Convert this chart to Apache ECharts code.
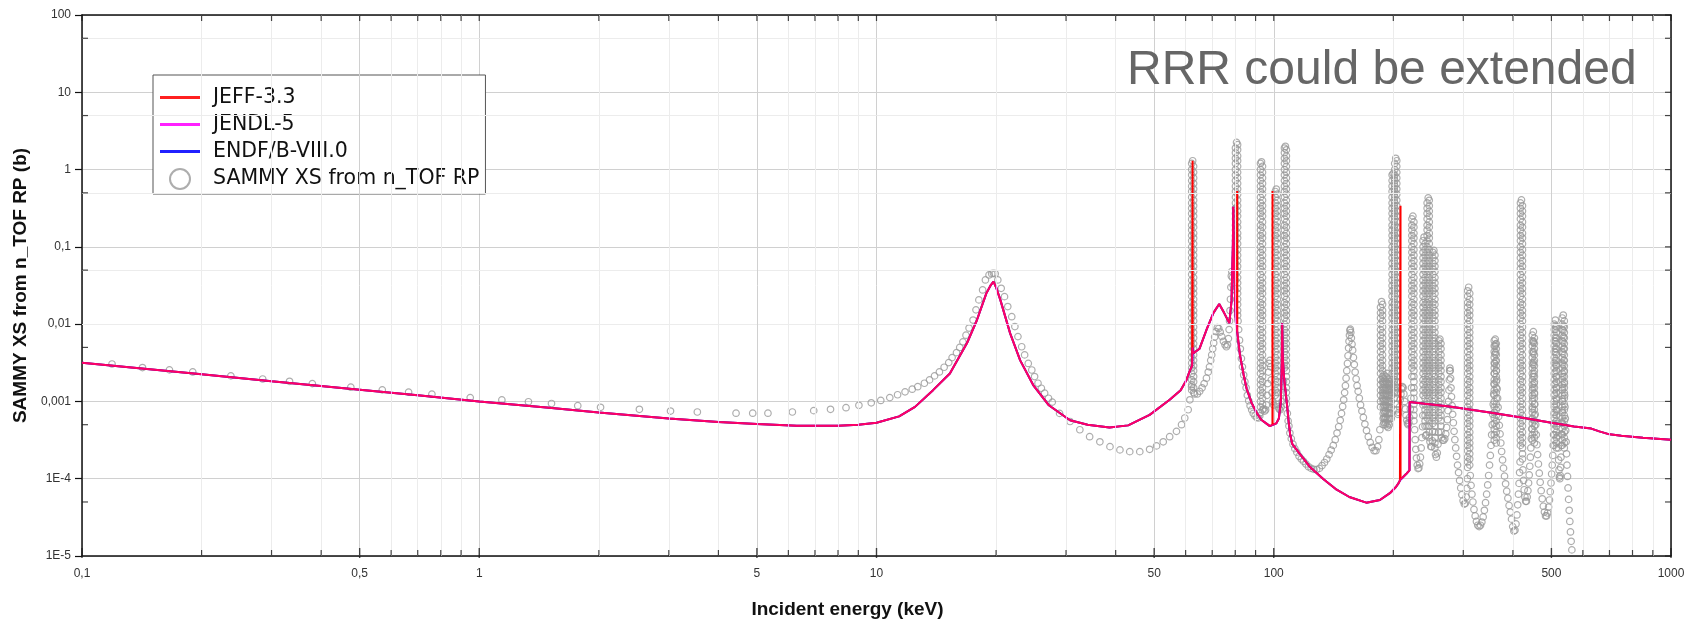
<!DOCTYPE html>
<html><head><meta charset="utf-8">
<script src="https://cdn.jsdelivr.net/npm/echarts@6/dist/echarts.min.js"></script>
<style>html,body{margin:0;padding:0;background:#fff}#chart{width:1692px;height:619px}</style>
</head><body><div id="chart"></div>
<script>
// ---- axis ticks / labels ----
const xTickValues = [0.1, 0.5, 1, 5, 10, 50, 100, 500, 1000];
const xTickLabels = ['0,1', '0,5', '1', '5', '10', '50', '100', '500', '1000'];
const xMinorValues = [0.2,0.3,0.4,0.6,0.7,0.8,0.9, 2,3,4,6,7,8,9, 20,30,40,60,70,80,90, 200,300,400,600,700,800,900];
const yTickValues = [100, 10, 1, 0.1, 0.01, 0.001, 1e-4, 1e-5];
const yTickLabels = ['100', '10', '1', '0,1', '0,01', '0,001', '1E-4', '1E-5'];
const yMinorValues = [50, 5, 0.5, 0.05, 0.005, 5e-4, 5e-5];

// ---- evaluated cross sections (JENDL-5 and ENDF/B-VIII.0 coincide in the picture) ----
const jendlXS = [
[0.1,3.17e-3],[0.2,2.24e-3],[0.3,1.83e-3],[0.5,1.42e-3],[0.7,1.2e-3],[1,1.0e-3],[1.5,8.3e-4],[2,7.2e-4],[3,6.0e-4],[4,5.4e-4],[5,5.1e-4],[6.3,4.85e-4],[8,4.85e-4],[9,5.0e-4],[10,5.3e-4],[11.4,6.4e-4],[12.5,8.5e-4],[13.9,1.41e-3],[15.3,2.3e-3],[16.9,5.7e-3],[17.9,0.0113],[18.9,0.025],[19.4,0.032],[19.7,0.0355],[20.0,0.03],[20.5,0.0206],[21.7,7.6e-3],[23.0,3.4e-3],[24.8,1.63e-3],[27.1,9.0e-4],[30.7,5.7e-4],[34,5.0e-4],[38.6,4.6e-4],[43,4.9e-4],[48.7,6.7e-4],[54.7,1.05e-3],[58.3,1.4e-3],[60.3,1.9e-3],[61.5,2.5e-3],[62.3,2.9e-3],[62.5,5e-3],[62.8,4.2e-3],[63.5,4.0e-3],[65,4.8e-3],[67.7,8.4e-3],[70.5,0.014],[72.9,0.0182],[75,0.014],[77.3,0.0103],[78.3,0.02],[78.9,0.1],[79.1,0.33],[79.3,0.08],[80.2,0.012],[81,0.0075],[82.2,4e-3],[84,2.2e-3],[85.5,1.45e-3],[88,9.5e-4],[90.5,7.2e-4],[93,5.8e-4],[95.7,5.2e-4],[97.8,4.8e-4],[98.8,5.0e-4],[99.8,5.0e-4],[101.5,5.2e-4],[103,6e-4],[104.2,1e-3],[104.8,3e-3],[105,0.0103],[105.3,4e-3],[106,2.2e-3],[107,1.4e-3],[108,9e-4],[109,5.5e-4],[110,3.7e-4],[111.4,2.8e-4],[114,2.4e-4],[116.3,2.1e-4],[119.5,1.75e-4],[123,1.44e-4],[133,1.0e-4],[144,7.2e-5],[155,5.8e-5],[171,4.9e-5],[185,5.3e-5],[196,6.5e-5],[203,7.8e-5],[206,8.7e-5],[207.8,9.5e-5],[209,1.0e-4],[212,1.06e-4],[216,1.17e-4],[219.6,1.28e-4],[219.8,9.8e-4],[240,9.3e-4],[277,8.6e-4],[350,7.2e-4],[420,6.2e-4],[500,5.3e-4],[570,4.75e-4],[630,4.45e-4],[660,4.1e-4],[700,3.75e-4],[750,3.6e-4],[850,3.4e-4],[1000,3.2e-4]
];
const endfXS = jendlXS;
// resonances that only JEFF-3.3 shows
const jeffSpikes = [
[62.42,2.9e-3],[62.47,1.3],[62.52,4.5e-3],
[80.85,8e-3],[80.9,0.53],[80.95,7.8e-3],
[99.25,5e-4],[99.3,0.53],[99.35,5e-4],
[208.45,9.6e-5],[208.5,0.34],[208.55,9.8e-5]
];

// ---- SAMMY points ----
const sammyLowEnergy = [
[0.119,3.05e-3],[0.142,2.74e-3],[0.166,2.56e-3],[0.190,2.41e-3],[0.237,2.14e-3],[0.285,1.95e-3],[0.333,1.82e-3],[0.380,1.70e-3],[0.475,1.53e-3],[0.570,1.41e-3],[0.664,1.32e-3],[0.760,1.24e-3],[0.949,1.12e-3],[1.14,1.045e-3],[1.33,9.9e-4],[1.52,9.4e-4],[1.77,8.8e-4],[2.02,8.4e-4],[2.53,7.9e-4],[3.03,7.5e-4],[3.54,7.3e-4],[4.43,7.05e-4],[4.88,7.05e-4],[5.33,7.05e-4],[6.14,7.3e-4],[6.95,7.6e-4],[7.66,7.9e-4],[8.38,8.3e-4],[9.03,8.9e-4],[9.7,9.6e-4],[10.25,1.03e-3],[10.8,1.12e-3],[11.3,1.22e-3],[11.8,1.33e-3],[12.3,1.44e-3],[12.7,1.55e-3],[13.2,1.72e-3],[13.6,1.9e-3],[14.0,2.14e-3],[14.4,2.41e-3],[14.8,2.77e-3],[15.2,3.18e-3],[15.5,3.69e-3],[15.9,4.28e-3],[16.2,5.0e-3],[16.5,5.9e-3],[16.8,7.2e-3],[17.1,8.9e-3],[17.5,0.0113],[17.8,0.0153],[18.1,0.0206],[18.5,0.0277],[18.8,0.0373],[19.2,0.0433],[19.5,0.045],[19.7,0.0455],[19.9,0.045],[20.2,0.0373],[20.6,0.0291],[21.0,0.0227],[21.4,0.0169],[21.9,0.0125],[22.3,9.3e-3],[22.7,6.9e-3],[23.2,5.1e-3],[23.6,4.0e-3],[24.1,3.1e-3],[24.6,2.55e-3],[25.0,2.1e-3],[25.5,1.72e-3],[26.0,1.48e-3],[26.5,1.28e-3],[27.1,1.1e-3],[27.7,9.8e-4],[28.9,7.0e-4],[30.7,5.5e-4],[32.5,4.3e-4],[34.4,3.5e-4],[36.5,3.0e-4],[38.7,2.6e-4],[41.0,2.36e-4],[43.4,2.24e-4],[46.0,2.24e-4],[48.7,2.4e-4],[50.7,2.66e-4],[52.7,3.0e-4],[54.7,3.5e-4],[56.9,4.1e-4],[58.6,5.0e-4],[59.7,6.1e-4],[60.9,7.8e-4],[61.5,1.05e-3],[62.1,1.55e-3]
];
const sammyResonanceCurve = [
[63.2,1.25e-3],[64.2,1.25e-3],[65.1,1.35e-3],[66.0,1.5e-3],[66.8,1.7e-3],[67.7,2.0e-3],[68.4,2.4e-3],[68.9,2.8e-3],[69.4,3.4e-3],[69.8,4.0e-3],[70.2,4.8e-3],[70.6,5.7e-3],[71.0,6.8e-3],[71.5,8.0e-3],[72.1,9.0e-3],[72.7,8.8e-3],[73.3,7.9e-3],[74.0,6.9e-3],[74.7,6.0e-3],[75.4,5.4e-3],[76.0,5.1e-3],[76.5,5.4e-3],[76.9,6.5e-3],[77.2,8.5e-3],[77.4,0.011],[77.6,0.015],[77.8,0.021],[78.0,0.03],[78.2,0.042],[78.4,0.048],[78.7,0.04],[79.0,0.032],[79.4,0.028],[79.8,0.028],
[81.3,0.011],[81.6,0.0085],[82.0,0.0062],[82.4,0.0048],[82.9,0.0036],[83.4,0.0028],[84.0,0.0022],[84.6,0.0018],[85.2,0.0015],[85.8,0.0012],[86.5,1.02e-3],[87.2,8.8e-4],[88.0,7.8e-4],[88.8,7.0e-4],[89.7,6.5e-4],[90.6,6.2e-4],[91.5,6.1e-4],[92.2,6.5e-4],
[94.3,8e-4],[94.9,7.5e-4],[95.4,7.8e-4],[95.8,9e-4],[96.2,1.2e-3],[96.6,1.7e-3],[97.0,2.4e-3],[97.4,3.1e-3],[97.8,3.4e-3],[98.2,2.8e-3],[98.6,1.9e-3],[99.0,1.3e-3],[99.5,1.0e-3],[100.0,9e-4],
[102.6,8.5e-4],[103.2,8e-4],[103.8,7.8e-4],[104.4,8.5e-4],[104.9,1.0e-3],[105.4,1.3e-3],[105.8,1.8e-3],
[108.2,7e-4],[108.7,5.6e-4],[109.2,4.8e-4],[109.8,3.9e-4],[110.7,3.3e-4],[111.8,2.8e-4],[113.0,2.45e-4],[114.3,2.2e-4],[115.8,1.95e-4],[117.3,1.8e-4],[118.8,1.68e-4],[120.5,1.55e-4],[122.3,1.43e-4],[124.2,1.36e-4],[126.2,1.32e-4],[128.2,1.31e-4],[130.3,1.36e-4],[132.3,1.48e-4],[134.2,1.62e-4],[136,1.8e-4],[137.8,2.05e-4],[139.5,2.35e-4],[141.2,2.7e-4],[142.8,3.2e-4],[144.3,3.9e-4],[145.7,4.7e-4],[147,5.7e-4],[148.1,7e-4],[149.1,8.6e-4],[150,1.05e-3],[150.8,1.3e-3],[151.5,1.6e-3],[152.1,2e-3],[152.7,2.5e-3],[153.3,3.1e-3],[153.8,3.9e-3],[154.3,4.9e-3],[154.7,6.0e-3],[155.1,7.2e-3],[155.5,8.3e-3],[155.9,8.6e-3],[156.3,7.8e-3],[156.8,6.6e-3],[157.4,5.5e-3],[158.0,4.6e-3],[158.7,3.7e-3],[159.5,3.0e-3],[160.3,2.4e-3],[161.2,1.95e-3],[162.1,1.6e-3],[163.1,1.35e-3],[164.2,1.1e-3],[165.4,9e-4],[166.7,7.5e-4],[168.1,6.2e-4],[169.6,5.1e-4],[171.2,4.2e-4],[173,3.5e-4],[174.9,2.95e-4],[176.9,2.55e-4],[178.9,2.3e-4],[180.8,2.3e-4],[182.5,2.6e-4],[183.9,3.2e-4],[185,4.3e-4],
[205.4,6.8e-4],[206.3,7.2e-4],[207.2,8.5e-4],[208.1,1.05e-3],[209,1.25e-3],[209.9,1.45e-3],[210.8,1.55e-3],[211.7,1.5e-3],[212.6,1.25e-3],[213.5,1e-3],[214.4,8e-4],[215.3,6.6e-4],[216.2,5.7e-4],[217.1,5.2e-4],[218,5e-4],[218.9,5.3e-4],[219.8,6.2e-4],[220.7,8e-4],[221.5,1.1e-3],[222.2,1.5e-3],
[226.3,4.3e-4],[227,3.2e-4],[227.8,2.4e-4],[228.7,1.85e-4],[229.7,1.5e-4],[230.8,1.35e-4],[231.9,1.38e-4],[233,1.55e-4],[234,1.9e-4],[235,2.5e-4],[236,3.4e-4],[236.9,4.7e-4],[237.3,6.6e-4],
[241.2,3.6e-4],[242.2,3.7e-4],[243.1,4.8e-4],
[247.3,3e-4],[248.5,2.6e-4],[249.7,2.6e-4],[250.8,3.1e-4],[251.3,4.1e-4],
[255.4,2.05e-4],[256.7,1.9e-4],[258,2.15e-4],[259.1,2.8e-4],[260,4e-4],
[264.6,3.4e-4],[266.2,3.15e-4],[267.9,3.15e-4],[269.5,3.3e-4],[271,3.8e-4],[272.4,4.6e-4],[273.6,5.8e-4],[274.6,7.6e-4],[275.4,1.0e-3],[276.1,1.4e-3],[276.7,1.9e-3],[277.2,2.5e-3],[277.6,2.7e-3],[278.1,2.5e-3],[278.7,2.0e-3],[279.4,1.5e-3],[280.2,1.15e-3],[281.1,8.8e-4],[282.1,6.8e-4],[283.2,5.3e-4],[284.4,4.1e-4],[285.7,3.2e-4],[287.1,2.5e-4],[288.6,1.95e-4],[290.2,1.5e-4],[291.9,1.2e-4],[293.7,9.5e-5],[295.6,7.6e-5],[297.6,6.2e-5],[299.7,5.2e-5],[301.8,4.7e-5],[303.6,4.8e-5],[305.1,5.8e-5],[306.3,7.5e-5],[307.1,1e-4],
[312.4,1.1e-4],[313.8,8.2e-5],[315.4,6.3e-5],[317.2,5e-5],[319.2,4e-5],[321.4,3.3e-5],[323.8,2.8e-5],[326.3,2.5e-5],[328.9,2.4e-5],[331.5,2.5e-5],[334.1,2.75e-5],[336.6,3.2e-5],[339,3.9e-5],[341.3,4.9e-5],[343.5,6.3e-5],[345.6,8.3e-5],[347.5,1.1e-4],[349.3,1.5e-4],[350.9,2e-4],[352.3,2.7e-4],[353.6,3.7e-4],[354.8,5e-4],[355.9,6.8e-4],[356.9,9.2e-4],[357.8,1.25e-3],[358.6,1.7e-3],[359.3,2.3e-3],[359.9,3.1e-3],[360.4,4.1e-3],[360.8,5.2e-3],[361.1,6.4e-3],[361.5,5.5e-3],[362,4.3e-3],[362.6,3.3e-3],[363.3,2.5e-3],[364.1,1.9e-3],[365,1.45e-3],[366,1.1e-3],[367.1,8.4e-4],[368.3,6.4e-4],[369.7,4.9e-4],[371.2,3.8e-4],[372.9,2.9e-4],[374.7,2.25e-4],[376.7,1.75e-4],[378.8,1.37e-4],[381,1.08e-4],[383.4,8.6e-5],[385.9,6.9e-5],[388.5,5.6e-5],[391.2,4.5e-5],[394,3.7e-5],[396.8,3e-5],[399.5,2.4e-5],[402.2,2.1e-5],[404.8,2.15e-5],[407.2,2.6e-5],[409.4,3.4e-5],[411.3,4.6e-5],[413,6.3e-5],[414.5,8.7e-5],[415.8,1.2e-4],[416.9,1.65e-4],
[424,1.3e-4],[425.4,9.5e-5],[427,7.2e-5],[428.8,5.8e-5],[430.7,5.1e-5],[432.6,5.1e-5],[434.5,5.8e-5],[436.3,7e-5],[438,8.8e-5],[439.6,1.12e-4],[441.1,1.45e-4],[442.5,1.9e-4],[443.8,2.5e-4],[445,3.3e-4],[446.1,4.4e-4],[447,5.9e-4],[447.8,8e-4],[448.5,1.1e-3],[449,1.5e-3],[449.4,2.1e-3],[449.7,3e-3],[449.9,4.2e-3],[450.1,5.8e-3],[450.3,8e-3],[450.6,6e-3],[450.9,4.4e-3],[451.3,3.2e-3],[451.8,2.3e-3],[452.4,1.7e-3],[453.2,1.25e-3],[454.1,9.2e-4],[455.2,6.8e-4],[456.5,5e-4],[458,3.7e-4],[459.7,2.75e-4],[461.6,2.05e-4],[463.7,1.55e-4],[466,1.18e-4],[468.5,9e-5],[471.2,7e-5],[474.1,5.5e-5],[477.1,4.4e-5],[480.2,3.7e-5],[483.3,3.3e-5],[486.3,3.3e-5],[489.2,3.6e-5],[491.9,4.3e-5],[494.4,5.3e-5],[496.7,6.8e-5],[498.8,8.8e-5],[500.7,1.15e-4],[502.4,1.5e-4],[503.9,2e-4],[505.2,2.7e-4],[506.3,3.7e-4],[507.3,5e-4],[508.1,6.8e-4],[508.8,9.2e-4],[509.4,1.25e-3],[509.9,1.7e-3],[510.3,2.4e-3],[510.6,3.4e-3],[510.9,4.8e-3],[511.1,6.7e-3],[511.3,9.5e-3],[511.5,0.0113],[511.8,8.5e-3],[512.2,6e-3],[512.7,4.3e-3],[513.3,3e-3],[514,2.1e-3],[514.8,1.5e-3],[515.7,1.05e-3],[516.7,7.5e-4],[517.8,5.2e-4],[519,3.6e-4],[520.2,2.5e-4],[521.4,1.75e-4],[522.6,1.3e-4],[523.8,1.05e-4],[525,1e-4],[526.2,1.1e-4],[527.3,1.4e-4],[528.4,1.9e-4],[529.4,2.7e-4],[530.4,3.8e-4],[531.3,5.4e-4],[532.1,7.6e-4],[532.8,1.07e-3],[533.4,1.5e-3],[533.9,2.1e-3],[534.3,3e-3],[534.7,4.2e-3],[535,5.9e-3],[535.3,8.3e-3],[535.6,0.0131],[535.9,9.5e-3],[536.3,6.8e-3],[536.8,4.8e-3],[537.4,3.4e-3],[538.1,2.4e-3],[538.9,1.7e-3],[539.8,1.2e-3],[540.8,8.5e-4],[541.9,6e-4],[543.1,4.2e-4],[544.4,3e-4],[545.8,2.1e-4],[547.3,1.5e-4],[548.9,1.07e-4],[550.6,7.6e-5],[552.4,5.4e-5],[554.3,3.9e-5],[556.3,2.8e-5],[558.4,2.05e-5],[560.6,1.55e-5],[562.9,1.2e-5],[565.3,9.5e-6]
];
// stacked circles of the narrow resonances: [energy, cross sections of the stacked circles...]
const sammyColumns = [
[62.15,.0014,.00165,.0019,.0023,.0027,.00315,.0037,.0044,.0052,.0061,.0072,.0085,.01,.012,.014,.0165,.019,.023,.027,.0315,.037,.044,.052,.061,.072,.085,.1,.12,.14,.165,.19,.23,.27,.315,.37,.44,.52,.61,.72,.85,1,1.2],
[62.5,1.3],
[62.85,1.1,.92,.78,.66,.56,.48,.4,.34,.29,.25,.21,.18,.15,.13,.11,.092,.078,.066,.056,.048,.04,.034,.029,.025,.021,.018,.015,.013,.011,.0092,.0078,.0066,.0056,.0048,.004,.0034,.0029,.0025,.0021,.0018,.0015,.0013],
[80.1,.037,.044,.052,.061,.072,.085,.1,.12,.14,.165,.19,.23,.27,.315,.37,.44,.52,.61,.72,.85,1,1.2,1.4,1.65,1.9],
[80.6,2.25],
[81.1,2.1,1.8,1.5,1.3,1.1,.92,.78,.66,.56,.48,.4,.34,.29,.25,.21,.18,.15,.13,.11,.092,.078,.066,.056,.048,.04,.034,.029,.025,.021,.018,.015,.013],
[92.6,7.2e-4,8.5e-4,.001,.0012,.0014,.00165,.0019,.0023,.0027,.00315,.0037,.0044,.0052,.0061,.0072,.0085,.01,.012,.014,.0165,.019,.023,.027,.0315,.037,.044,.052,.061,.072,.085,.1,.12,.14,.165,.19,.23,.27,.315,.37,.44,.52,.61,.72,.85,1,1.2],
[93.15,1.26],
[93.7,1.1,.92,.78,.66,.56,.48,.4,.34,.29,.25,.21,.18,.15,.13,.11,.092,.078,.066,.056,.048,.04,.034,.029,.025,.021,.018,.015,.013,.011,.0092,.0078,.0066,.0056,.0048,.004,.0034,.0029,.0025,.0021,.0018,.0015,.0013,.0011,9.2e-4,7.8e-4],
[100.9,.0012,.0014,.00165,.0019,.0023,.0027,.00315,.0037,.0044,.0052,.0061,.0072,.0085,.01,.012,.014,.0165,.019,.023,.027,.0315,.037,.044,.052,.061,.072,.085,.1,.12,.14,.165,.19,.23,.27,.315,.37,.44,.52],
[101.5,.56],
[102.1,.48,.4,.34,.29,.25,.21,.18,.15,.13,.11,.092,.078,.066,.056,.048,.04,.034,.029,.025,.021,.018,.015,.013,.011,.0092,.0078,.0066,.0056,.0048,.004,.0034,.0029,.0025,.0021,.0018,.0015,.0013,.0011,9.2e-4],
[106.4,.0027,.00315,.0037,.0044,.0052,.0061,.0072,.0085,.01,.012,.014,.0165,.019,.023,.027,.0315,.037,.044,.052,.061,.072,.085,.1,.12,.14,.165,.19,.23,.27,.315,.37,.44,.52,.61,.72,.85,1,1.2,1.4,1.65,1.9],
[107,2.0],
[107.6,1.8,1.5,1.3,1.1,.92,.78,.66,.56,.48,.4,.34,.29,.25,.21,.18,.15,.13,.11,.092,.078,.066,.056,.048,.04,.034,.029,.025,.021,.018,.015,.013,.011,.0092,.0078,.0066,.0056,.0048,.004,.0034,.0029,.0025,.0021,.0018,.0015,.0013,.0011,9.2e-4],
[185.7,8.5e-4,.001,.0012,.0014,.00165,.0019,.0023,.0027,.00315,.0037,.0044,.0052,.0061,.0072,.0085,.01,.012,.014,.0165],
[186.8,.0196],
[187.9,.018,.015,.013,.011,.0092,.0078,.0066,.0056,.0048,.004,.0034,.0029,.0025,.0021,.0018,.0015,.0013,.0011],
[188.6,5e-4,6e-4,7e-4,8.4e-4,1e-3,1.2e-3,1.4e-3,1.7e-3,2e-3],[189.5,2.2e-3,1.8e-3,1.5e-3,1.25e-3,1.05e-3,9e-4,7.5e-4,6.2e-4,5.3e-4],[190.6,5e-4,6e-4,7e-4,8.4e-4,1e-3,1.2e-3,1.4e-3,1.65e-3,1.9e-3],[191.6,2.1e-3,1.8e-3,1.5e-3,1.25e-3,1.05e-3,9e-4,7.5e-4,6.2e-4,5.3e-4],[192.8,4.8e-4,5.8e-4,7e-4,8.4e-4,1e-3,1.2e-3,1.4e-3,1.7e-3,2e-3,2.3e-3],[194,1.7e-3,1.45e-3,1.2e-3,1e-3,8.4e-4,7e-4,6e-4,5.2e-4,4.6e-4],[195.3,5e-4,6e-4,7e-4,8.4e-4,1e-3,1.2e-3,1.4e-3,1.6e-3,1.8e-3],[196.6,1.5e-3,1.3e-3,1.1e-3,9.2e-4,8e-4,7e-4,6e-4],[197.6,6e-4,7e-4,8.4e-4,1e-3,1.2e-3,1.45e-3,1.7e-3],
[198.6,.0012,.0014,.00165,.0019,.0023,.0027,.00315,.0037,.0044,.0052,.0061,.0072,.0085,.01,.012,.014,.0165,.019,.023,.027,.0315,.037,.044,.052,.061,.072,.085,.1,.12,.14,.165,.19,.23,.27,.315,.37,.44,.52,.61,.72,.85],
[199.8,.89],
[201,.78,.66,.56,.48,.4,.34,.29,.25,.21,.18,.15,.13,.11,.092,.078,.066,.056,.048,.04,.034,.029,.025,.021,.018,.015,.013,.011,.0092,.0078,.0066,.0056,.0048,.004,.0034,.0029,.0025,.0021,.0018,.0015,.0013,.0011],
[201.6,.0014,.00165,.0019,.0023,.0027,.00315,.0037,.0044,.0052,.0061,.0072,.0085,.01,.012,.014,.0165,.019,.023,.027,.0315,.037,.044,.052,.061,.072,.085,.1,.12,.14,.165,.19,.23,.27,.315,.37,.44,.52,.61,.72,.85,1,1.2],
[202.8,1.4],
[204,1.3,1.1,.92,.78,.66,.56,.48,.4,.34,.29,.25,.21,.18,.15,.13,.11,.092,.078,.066,.056,.048,.04,.034,.029,.025,.021,.018,.015,.013,.011,.0092,.0078,.0066,.0056,.0048,.004,.0034,.0029,.0025,.0021,.0018,.0015,.0013,.0011,9.2e-4,7.8e-4],
[222.7,.0021,.0027,.00315,.0037,.0044,.0052,.0061,.0072,.0085,.01,.012,.014,.0165,.019,.023,.027,.0315,.037,.044,.052,.061,.072,.085,.1,.12,.14,.165,.19,.23],
[224,.25],
[225.3,.21,.18,.15,.13,.11,.092,.078,.066,.056,.048,.04,.034,.029,.025,.021,.018,.015,.013,.011,.0092,.0078,.0066,.0056,.0048,.004,.0034,.0029,.0025,.0021,.0018,.0015,.0013,.0011,9.2e-4,7.8e-4,6.6e-4,5.6e-4],
[237.6,9e-4,.0012,.0014,.00165,.0019,.0023,.0027,.00315,.0037,.0044,.0052,.0061,.0072,.0085,.01,.012,.014,.0165,.019,.023,.027,.0315,.037,.044,.052,.061,.072,.085,.1,.12],
[239,.134],
[240.4,.11,.092,.078,.066,.056,.048,.04,.034,.029,.025,.021,.018,.015,.013,.011,.0092,.0078,.0066,.0056,.0048,.004,.0034,.0029,.0025,.0021,.0018,.0015,.0013,.0011,9.2e-4,7.8e-4,6.6e-4,5.6e-4,4.8e-4],
[243.3,6.1e-4,7.2e-4,8.5e-4,.001,.0012,.0014,.00165,.0019,.0023,.0027,.00315,.0037,.0044,.0052,.0061,.0072,.0085,.01,.012,.014,.0165,.019,.023,.027,.0315,.037,.044,.052,.061,.072,.085,.1,.12,.14,.165,.19,.23,.27,.315,.37],
[244.8,.43],
[246.3,.4,.34,.29,.25,.21,.18,.15,.13,.11,.092,.078,.066,.056,.048,.04,.034,.029,.025,.021,.018,.015,.013,.011,.0092,.0078,.0066,.0056,.0048,.004,.0034,.0029,.0025,.0021,.0018,.0015,.0013,.0011,9.2e-4,7.8e-4,6.6e-4,5.6e-4,4.8e-4,4e-4,3.4e-4],
[251.5,5.2e-4,6.1e-4,7.2e-4,8.5e-4,.001,.0012,.0014,.00165,.0019,.0023,.0027,.00315,.0037,.0044,.0052,.0061,.0072,.0085,.01,.012,.014,.0165,.019,.023,.027,.0315,.037,.044,.052,.061,.072,.085],
[253,.09],
[254.5,.078,.066,.056,.048,.04,.034,.029,.025,.021,.018,.015,.013,.011,.0092,.0078,.0066,.0056,.0048,.004,.0034,.0029,.0025,.0021,.0018,.0015,.0013,.0011,9.2e-4,7.8e-4,6.6e-4,5.6e-4,4.8e-4,4e-4,3.4e-4,2.9e-4,2.5e-4],
[260.4,6.1e-4,7.2e-4,8.5e-4,.001,.0012,.0014,.00165,.0019,.0023,.0027,.00315,.0037,.0044,.0052,.0061],
[262,.0064],
[263.6,.0056,.0048,.004,.0034,.0029,.0025,.0021,.0018,.0015,.0013,.0011,9.2e-4,7.8e-4,6.6e-4,5.6e-4,4.8e-4,4e-4],
[307.6,1.4e-4,1.65e-4,1.9e-4,2.3e-4,2.7e-4,3.15e-4,3.7e-4,4.4e-4,5.2e-4,6.1e-4,7.2e-4,8.5e-4,.001,.0012,.0014,.00165,.0019,.0023,.0027,.00315,.0037,.0044,.0052,.0061,.0072,.0085,.01,.012,.014,.0165,.019,.023,.027],
[309.5,.03],
[311.4,.025,.021,.018,.015,.013,.011,.0092,.0078,.0066,.0056,.0048,.004,.0034,.0029,.0025,.0021,.0018,.0015,.0013,.0011,9.2e-4,7.8e-4,6.6e-4,5.6e-4,4.8e-4,4e-4,3.4e-4,2.9e-4,2.5e-4,2.1e-4,1.8e-4,1.5e-4],
[359,3.15e-4,3.7e-4,4.4e-4,5.2e-4,6.1e-4,7.2e-4,8.5e-4,.001,.0012,.0014,.00165,.0019,.0023,.0027,.00315,.0037,.0044,.0052,.0061],
[363.2,.0056,.0048,.004,.0034,.0029,.0025,.0021,.0018,.0015,.0013,.0011,9.2e-4,7.8e-4,6.6e-4,5.6e-4,4.8e-4,4e-4,3.4e-4,2.9e-4],
[417.8,2.7e-4,3.15e-4,3.7e-4,4.4e-4,5.2e-4,6.1e-4,7.2e-4,8.5e-4,.001,.0012,.0014,.00165,.0019,.0023,.0027,.00315,.0037,.0044,.0052,.0061,.0072,.0085,.01,.012,.014,.0165,.019,.023,.027,.0315,.037,.044,.052,.061,.072,.085,.1,.12,.14,.165,.19,.23,.27,.315,.37],
[420.3,.405],
[422.8,.34,.29,.25,.21,.18,.15,.13,.11,.092,.078,.066,.056,.048,.04,.034,.029,.025,.021,.018,.015,.013,.011,.0092,.0078,.0066,.0056,.0048,.004,.0034,.0029,.0025,.0021,.0018,.0015,.0013,.0011,9.2e-4,7.8e-4,6.6e-4,5.6e-4,4.8e-4,4e-4,3.4e-4,2.9e-4,2.5e-4,2.1e-4,1.8e-4],
[447.6,3.15e-4,3.7e-4,4.4e-4,5.2e-4,6.1e-4,7.2e-4,8.5e-4,.001,.0012,.0014,.00165,.0019,.0023,.0027,.00315,.0037,.0044,.0052,.0061,.0072],
[453,.0066,.0056,.0048,.004,.0034,.0029,.0025,.0021,.0018,.0015,.0013,.0011,9.2e-4,7.8e-4,6.6e-4,5.6e-4,4.8e-4,4e-4,3.4e-4,2.9e-4],
[508.4,2.7e-4,3.15e-4,3.7e-4,4.4e-4,5.2e-4,6.1e-4,7.2e-4,8.5e-4,.001,.0012,.0014,.00165,.0019,.0023,.0027,.00315,.0037,.0044,.0052,.0061,.0072,.0085,.01],
[514.6,.0092,.0078,.0066,.0056,.0048,.004,.0034,.0029,.0025,.0021,.0018,.0015,.0013,.0011,9.2e-4,7.8e-4,6.6e-4,5.6e-4,4.8e-4,4e-4,3.4e-4,2.9e-4,2.5e-4],
[532.4,2.7e-4,3.15e-4,3.7e-4,4.4e-4,5.2e-4,6.1e-4,7.2e-4,8.5e-4,.001,.0012,.0014,.00165,.0019,.0023,.0027,.00315,.0037,.0044,.0052,.0061,.0072,.0085,.01,.012],
[538.8,.011,.0092,.0078,.0066,.0056,.0048,.004,.0034,.0029,.0025,.0021,.0018,.0015,.0013,.0011,9.2e-4,7.8e-4,6.6e-4,5.6e-4,4.8e-4,4e-4,3.4e-4,2.9e-4,2.5e-4]
];

// ---- build series data ----
const sammyData = sammyLowEnergy.concat(sammyResonanceCurve);
sammyColumns.forEach(row => { for (let i = 1; i < row.length; i++) sammyData.push([row[0], row[i]]); });
const jeffXS = jendlXS.concat(jeffSpikes).sort((a, b) => a[0] - b[0]);

const FONT = 'Liberation Sans';
const gridMarkLines = [];
xMinorValues.forEach(v => gridMarkLines.push({xAxis: v, lineStyle: {color: '#ececec', width: 1, type: 'solid'}, label: {show: false}}));
yMinorValues.forEach(v => gridMarkLines.push({yAxis: v, lineStyle: {color: '#ececec', width: 1, type: 'solid'}, label: {show: false}}));
xTickValues.forEach((v, i) => {
  const isDecade = Math.abs(Math.log10(v) - Math.round(Math.log10(v))) < 1e-9;
  gridMarkLines.push({
    xAxis: v,
    lineStyle: {color: isDecade ? 'rgba(0,0,0,0)' : '#d0d0d0', width: 1, type: 'solid'},
    label: {show: true, position: 'start', formatter: xTickLabels[i], distance: 12, fontSize: 12, color: '#333', fontFamily: FONT}
  });
});

function tickSeries(data, size, offset) {
  return {type: 'scatter', data: data, symbol: 'rect', symbolSize: size, symbolOffset: offset,
    itemStyle: {color: '#1a1a1a'}, silent: true, clip: false, z: 6, animation: false};
}
const lineIcon = 'path://M0,0H40V3H0Z';

const chart = echarts.init(document.getElementById('chart'), null, {renderer: 'canvas'});
chart.setOption({
  animation: false,
  backgroundColor: '#fff',
  title: {text: 'RRR could be extended', left: 1122, top: 42,
    textStyle: {fontFamily: FONT, fontSize: 48, fontWeight: 'normal', color: '#666'}},
  grid: {left: 82, right: 21, top: 15, bottom: 63, outerBoundsMode: 'none'},
  legend: {
    left: 153, top: 75, orient: 'vertical', itemWidth: 40, itemHeight: 20, itemGap: 6,
    padding: [12, 6, 4, 7], borderColor: '#555', borderWidth: 1, backgroundColor: '#fff',
    textStyle: {fontFamily: 'DejaVu Sans', fontSize: 20.5, color: '#111', padding: [0, 0, 0, 8]},
    data: [
      {name: 'JEFF-3.3', icon: lineIcon, itemStyle: {color: '#ff2020'}},
      {name: 'JENDL-5', icon: lineIcon, itemStyle: {color: '#ff20ff', opacity: 1}},
      {name: 'ENDF/B-VIII.0', icon: lineIcon, itemStyle: {color: '#2020ff'}},
      {name: 'SAMMY XS from n_TOF RP'}
    ]
  },
  xAxis: [{
    type: 'log', logBase: 10, min: 0.1, max: 1000,
    axisLine: {show: true, lineStyle: {color: '#111', width: 1.5}},
    axisTick: {show: false}, axisLabel: {show: false},
    splitLine: {show: true, lineStyle: {color: '#d0d0d0', width: 1}},
    name: 'Incident energy (keV)', nameLocation: 'middle', nameGap: 44,
    nameTextStyle: {fontFamily: FONT, fontWeight: 'bold', fontSize: 19, color: '#111', padding: [0, 58, 0, 0]}
  }, {
    type: 'log', logBase: 10, min: 0.1, max: 1000, position: 'top',
    axisLine: {show: true, lineStyle: {color: '#111', width: 1.5}},
    axisTick: {show: false}, axisLabel: {show: false}, splitLine: {show: false}
  }],
  yAxis: [{
    type: 'log', logBase: 10, min: 1e-5, max: 100,
    axisLine: {show: true, lineStyle: {color: '#111', width: 1.5}},
    axisTick: {show: true, length: 7, lineStyle: {color: '#111', width: 1.2}},
    axisLabel: {fontFamily: FONT, fontSize: 12, color: '#333', margin: 11,
      formatter: v => { const i = yTickValues.findIndex(t => Math.abs(Math.log10(t) - Math.log10(v)) < 1e-6); return i >= 0 ? yTickLabels[i] : ''; }},
    splitLine: {show: true, lineStyle: {color: '#d0d0d0', width: 1}},
    name: 'SAMMY XS from n_TOF RP (b)', nameLocation: 'middle', nameGap: 51,
    nameTextStyle: {fontFamily: FONT, fontWeight: 'bold', fontSize: 19, color: '#111'}
  }, {
    type: 'log', logBase: 10, min: 1e-5, max: 100, position: 'right',
    axisLine: {show: true, lineStyle: {color: '#111', width: 1.5}},
    axisTick: {show: false}, axisLabel: {show: false}, splitLine: {show: false}
  }],
  series: [
    {name: '_grid', type: 'line', data: [], z: 1, silent: true,
      markLine: {silent: true, symbol: ['none', 'none'], animation: false, data: gridMarkLines}},
    {name: 'SAMMY XS from n_TOF RP', type: 'scatter', data: sammyData, symbol: 'circle', symbolSize: 6.5,
      progressive: 0, large: false,
      itemStyle: {color: 'rgba(0,0,0,0)', borderColor: '#999', borderWidth: 1.2}, z: 2, animation: false},
    {name: 'ENDF/B-VIII.0', type: 'line', data: endfXS, showSymbol: false, symbol: 'none',
      lineStyle: {color: '#0000ff', width: 2}, itemStyle: {color: '#0000ff'}, z: 3, animation: false},
    {name: 'JEFF-3.3', type: 'line', data: jeffXS, showSymbol: false, symbol: 'none',
      lineStyle: {color: '#ff0000', width: 2}, itemStyle: {color: '#ff0000'}, z: 4, animation: false},
    {name: 'JENDL-5', type: 'line', data: jendlXS, showSymbol: false, symbol: 'none',
      lineStyle: {color: '#ff00ff', width: 2, opacity: 0.4}, itemStyle: {color: '#ff00ff'}, z: 5, animation: false},
    tickSeries(xMinorValues.map(v => [v, 1e-5]), [1.2, 6], [0, -3]),
    tickSeries(xTickValues.map(v => [v, 1e-5]), [1.4, 10], [0, -3]),
    tickSeries(xMinorValues.concat(xTickValues).map(v => [v, 100]), [1.2, 6], [0, 3]),
    tickSeries(yMinorValues.map(v => [0.1, v]), [6, 1.2], [3, 0]),
    tickSeries(yMinorValues.concat(yTickValues).map(v => [1000, v]), [6, 1.2], [-3, 0])
  ]
});
</script>
</body></html>
